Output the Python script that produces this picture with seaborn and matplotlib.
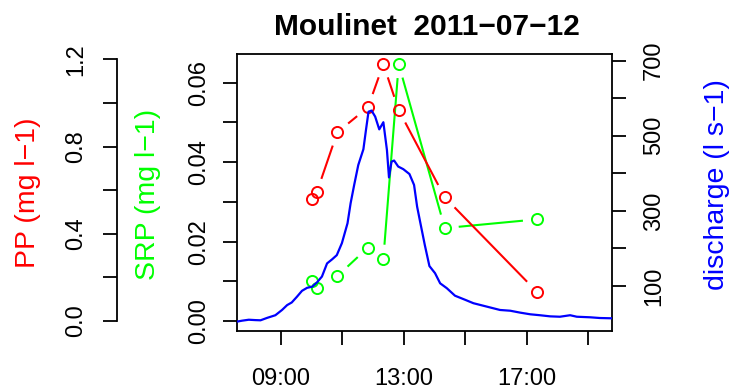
# Moulinet event 2011-07-12: PP, SRP and discharge
import numpy as np
import seaborn as sns
import matplotlib
matplotlib.use("Agg")
import matplotlib.pyplot as plt

sns.set_style("ticks")
plt.rcParams['font.family'] = ['Liberation Sans', 'DejaVu Sans']
plt.rcParams['text.color'] = "black"

# -----------------------------
# DATA
# -----------------------------

# discharge record (l s-1)
q_times = ["07:34", "07:44", "07:57", "08:10", "08:20", "08:33", "08:49", "09:02",
           "09:12", "09:21", "09:31", "09:41", "09:51", "10:01", "10:10", "10:20",
           "10:30", "10:40", "10:49", "10:59", "11:10", "11:16", "11:23", "11:31",
           "11:41", "11:46", "11:51", "11:57", "12:04", "12:12", "12:20", "12:27",
           "12:31", "12:36", "12:41", "12:49", "12:59", "13:11", "13:20", "13:26",
           "13:32", "13:41", "13:50", "14:01", "14:11", "14:24", "14:40", "15:00",
           "15:16", "15:42", "16:08", "16:28", "16:47", "17:07", "17:26", "17:46",
           "18:05", "18:25", "18:38", "19:04", "19:23", "19:47"]
q_values = [5, 7.5, 10, 9, 8.5, 15, 22, 36,
            49, 56, 71, 87, 95, 98, 109, 125,
            160, 171, 182, 214, 267, 320, 369, 422,
            464, 515, 564, 567, 551, 517, 536, 462,
            389, 431, 434, 418, 411, 398, 369, 311,
            270, 209, 153, 134, 107, 94, 74, 63,
            54, 45, 36, 34, 29, 24.5, 22, 19,
            18, 22, 18, 16.5, 14.6, 13.8]

# grab samples
sample_times = ["10:00", "10:10", "10:50", "11:50", "12:20", "12:50", "14:20", "17:20"]
pp_values = [0.558, 0.591, 0.865, 0.980, 1.178, 0.967, 0.567, 0.134]
srp_values = [0.0100, 0.0082, 0.0113, 0.0185, 0.0157, 0.0647, 0.0234, 0.0256]

x_ticks = [9, 11, 13, 15, 17, 19]
x_ticklabels = ["09:00", "", "13:00", "", "17:00", ""]
srp_ticks = [0.00, 0.01, 0.02, 0.03, 0.04, 0.05, 0.06]
srp_ticklabels = ["0.00", "", "0.02", "", "0.04", "", "0.06"]
pp_ticks = [0.0, 0.2, 0.4, 0.6, 0.8, 1.0, 1.2]
pp_ticklabels = ["0.0", "", "0.4", "", "0.8", "", "1.2"]
q_ticks = [100, 200, 300, 400, 500, 600, 700]
q_ticklabels = ["100", "", "300", "", "500", "", "700"]


def hours(t):
    h, m = t.split(":")
    return int(h) + int(m) / 60


q_x = [hours(t) for t in q_times]
s_x = [hours(t) for t in sample_times]

# -----------------------------
# FIGURE
# -----------------------------

W, H = 736, 391
fig = plt.figure(figsize=(W / 100, H / 100), dpi=100)
ax = fig.add_axes([237 / W, 1 - 331 / H, 375 / W, 277 / H])
ax_pp = ax.twinx()
ax_q = ax.twinx()

ax.set_xlim(7.567, 19.78)
ax.set_ylim(-0.00252, 0.06725)
ax_pp.set_ylim(-0.0459, 1.2243)
ax_q.set_ylim(-20, 717.7)

tick_kw = dict(length=10.4, width=1.3, labelsize=17, colors="black")

for s in ax.spines.values():
    s.set_linewidth(1.3)
    s.set_color("black")
    s.set_visible(True)
for s in ax_pp.spines.values():
    s.set_visible(False)
for s in ax_q.spines.values():
    s.set_visible(False)

# x axis
ax.set_xticks(x_ticks)
ax.set_xticklabels(x_ticklabels)
ax.tick_params(axis="x", pad=16, **tick_kw)

# SRP axis (inner left)
ax.set_yticks(srp_ticks)
ax.set_yticklabels(srp_ticklabels)
ax.tick_params(axis="y", pad=9, labelrotation=90, **tick_kw)
for lab in ax.get_yticklabels():
    lab.set_va("center")

# PP axis (outer left)
ax_pp.yaxis.tick_left()
ax_pp.spines["left"].set_visible(True)
ax_pp.spines["left"].set_position(("outward", 120 * 0.72))
ax_pp.spines["left"].set_bounds(0, 1.2)
ax_pp.spines["left"].set_linewidth(1.3)
ax_pp.spines["left"].set_color("black")
ax_pp.set_yticks(pp_ticks)
ax_pp.set_yticklabels(pp_ticklabels)
ax_pp.tick_params(axis="y", pad=11, labelrotation=90, **tick_kw)
for lab in ax_pp.get_yticklabels():
    lab.set_va("center")

# discharge axis (right)
ax_q.set_yticks(q_ticks)
ax_q.set_yticklabels(q_ticklabels)
ax_q.tick_params(axis="y", pad=12, labelrotation=90, **tick_kw)
for lab in ax_q.get_yticklabels():
    lab.set_va("center")


def gapped_line(a, x, y, color, gap=14):
    # R type="b": segments stop short of the points
    pts = a.transData.transform(np.column_stack([x, y]))
    inv = a.transData.inverted()
    for p0, p1 in zip(pts[:-1], pts[1:]):
        d = p1 - p0
        L = np.hypot(*d)
        if L <= 2 * gap:
            continue
        u = d / L
        seg = inv.transform([p0 + u * gap, p1 - u * gap])
        a.plot(seg[:, 0], seg[:, 1], color=color, lw=1.5, solid_capstyle="butt")
    a.plot(x, y, "o", ms=8, mfc="none", mec=color, mew=1.4)


gapped_line(ax, s_x, srp_values, "#00FF00")
gapped_line(ax_pp, s_x, pp_values, "#FF0000")
sns.lineplot(x=q_x, y=q_values, ax=ax_q, color="#0000FF", lw=1.6)

ax.set_xlim(7.567, 19.78)
ax.set_ylim(-0.00252, 0.06725)
ax_pp.set_ylim(-0.0459, 1.2243)
ax_q.set_ylim(-20, 717.7)

# labels
fig.text(28 / W, 1 - 193 / H, "PP (mg l\u22121)", color="#FF0000", fontsize=20.5,
         rotation=90, ha="center", va="center")
fig.text(148 / W, 1 - 194.5 / H, "SRP (mg l\u22121)", color="#00FF00", fontsize=20.5,
         rotation=90, ha="center", va="center")
fig.text(716.7 / W, 1 - 185 / H, "discharge (l s\u22121)", color="#0000FF", fontsize=20.5,
         rotation=90, ha="center", va="center")
fig.text(426.5 / W, 1 - 35 / H, "Moulinet  2011\u221207\u221212", fontsize=21.5,
         color="black", fontweight="bold", ha="center", va="baseline")

fig.savefig("out.png", dpi=100)
